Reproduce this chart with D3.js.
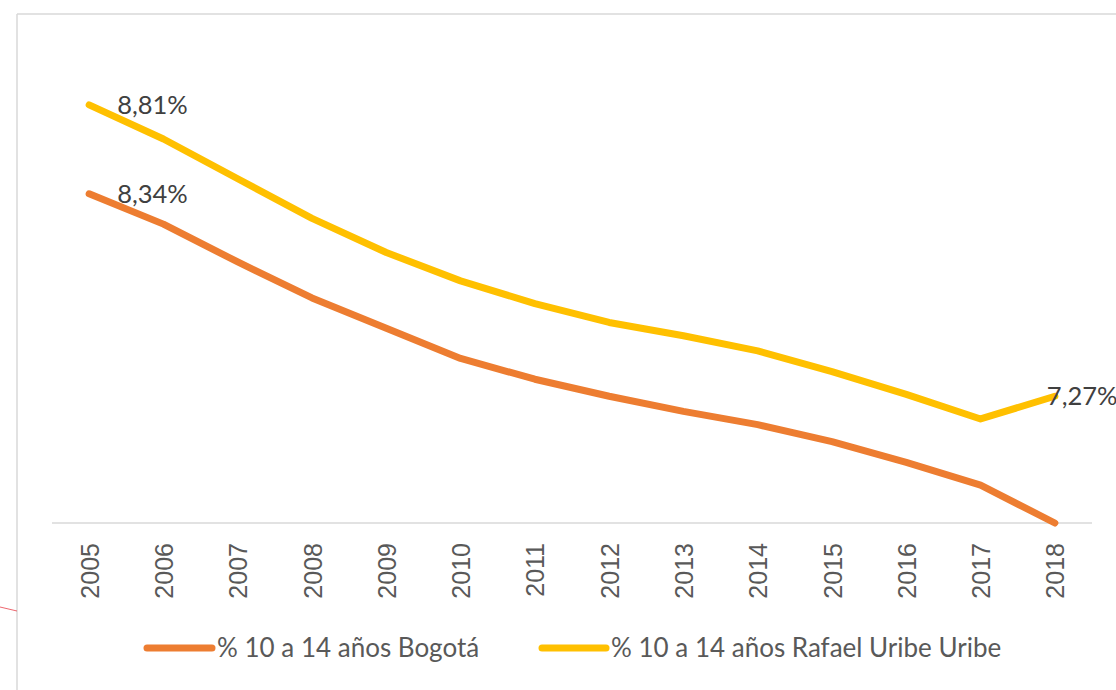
<!DOCTYPE html>
<html>
<head>
<meta charset="utf-8">
<script src="https://cdn.jsdelivr.net/npm/d3@7"></script>
<style>
  html, body { margin: 0; padding: 0; background: #fff; }
  svg { display: block; }
</style>
</head>
<body>
<svg id="chart" width="1116" height="690"></svg>
<script>
// ---- Data ----
const years = ["2005","2006","2007","2008","2009","2010","2011","2012","2013","2014","2015","2016","2017","2018"];
const bogota = [8.34, 8.18, 7.98, 7.79, 7.63, 7.47, 7.36, 7.27, 7.19, 7.12, 7.03, 6.92, 6.80, 6.60];
const rafaelUribe = [8.81, 8.63, 8.42, 8.21, 8.03, 7.88, 7.76, 7.66, 7.59, 7.51, 7.40, 7.28, 7.15, 7.27];
const seriesNames = ["% 10 a 14 años Bogotá", "% 10 a 14 años Rafael Uribe Uribe"];
const seriesColors = ["#ED7D31", "#FFC000"];
// data labels shown: [seriesIndex, yearIndex]
const labelPoints = [[1, 0], [0, 0], [1, 13]];

const svg = d3.select("#chart");
const W = 1116, H = 690;

// chart frame (partial border as in reference)
svg.append("line").attr("x1", 17).attr("y1", 14).attr("x2", W).attr("y2", 14)
  .attr("stroke", "#D9D9D9").attr("stroke-width", 1.5);
svg.append("line").attr("x1", 17).attr("y1", 14).attr("x2", 17).attr("y2", H)
  .attr("stroke", "#D9D9D9").attr("stroke-width", 1.5);
// stray red stroke at left
svg.append("line").attr("x1", 0).attr("y1", 607).attr("x2", 17).attr("y2", 611)
  .attr("stroke", "#E8404A").attr("stroke-width", 0.8);

const x = d3.scalePoint().domain(years).range([52, 1092]).padding(0.5);
const y = d3.scaleLinear().domain([6.6, 9.0]).range([523, 69]);

// category axis
const xAxis = svg.append("g").attr("transform", "translate(0,523)")
  .call(d3.axisBottom(x).tickSize(0).tickPadding(0));
xAxis.select(".domain").attr("d", "M52,0H1092").attr("stroke", "#D9D9D9").attr("stroke-width", 1.5);
xAxis.selectAll(".tick text")
  .attr("transform", "rotate(-90)")
  .attr("x", -20).attr("y", 0).attr("dy", "0.36em")
  .attr("text-anchor", "end")
  .attr("fill", "#595959")
  .style("font-family", "'Liberation Sans', Arial, sans-serif")
  .style("font-size", "25px");

// lines
const line = d3.line().x((d, i) => x(years[i])).y(d => y(d));
[bogota, rafaelUribe].forEach((s, k) => {
  svg.append("path").datum(s)
    .attr("d", line)
    .attr("fill", "none")
    .attr("stroke", seriesColors[k])
    .attr("stroke-width", 7)
    .attr("stroke-linejoin", "round")
    .attr("stroke-linecap", "round");
});

// data labels
const allSeries = [bogota, rafaelUribe];
const fmt = v => v.toFixed(2).replace(".", ",") + "%";
labelPoints.forEach(([si, yi]) => {
  const v = allSeries[si][yi];
  const last = yi === years.length - 1;
  svg.append("text")
    .attr("x", x(years[yi]) + (last ? -8 : 28))
    .attr("y", y(v))
    .attr("dy", "0.35em")
    .attr("fill", "#404040")
    .style("font-family", "Lato, 'Open Sans', sans-serif")
    .style("font-size", "25.5px")
    .text(fmt(v));
});

// legend
const legendItems = [{x0: 147, x1: 212}, {x0: 542, x1: 606}];
legendItems.forEach((L, k) => {
  svg.append("line").attr("x1", L.x0).attr("x2", L.x1).attr("y1", 648).attr("y2", 648)
    .attr("stroke", seriesColors[k]).attr("stroke-width", 7).attr("stroke-linecap", "round");
  svg.append("text").attr("x", L.x1 + 5).attr("y", 648).attr("dy", "0.35em")
    .attr("fill", "#595959")
    .style("font-family", "Lato, 'Open Sans', sans-serif")
    .style("font-size", "26px")
    .text(seriesNames[k]);
});
</script>
</body>
</html>
